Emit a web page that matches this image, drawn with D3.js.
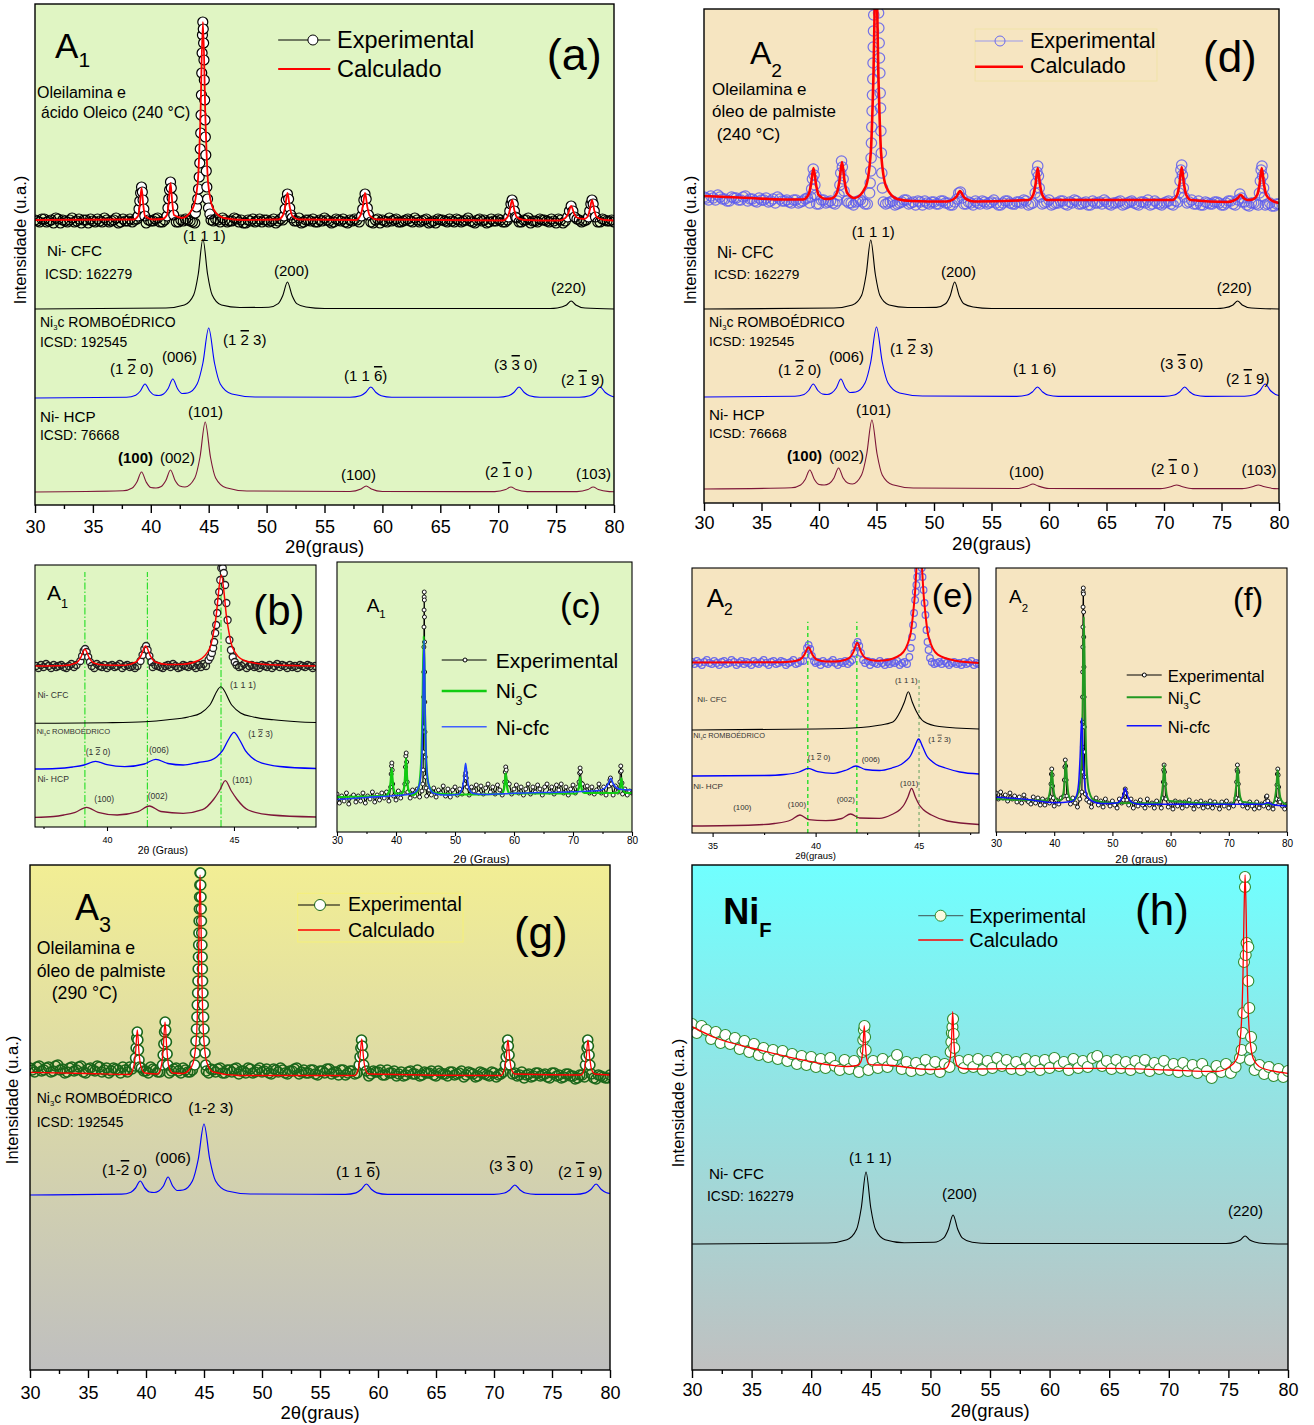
<!DOCTYPE html>
<html><head><meta charset="utf-8">
<script src="https://cdn.jsdelivr.net/npm/d3@7/dist/d3.min.js"></script>
<style>html,body{margin:0;padding:0;background:#fff}svg{display:block}</style>
</head><body>
<svg id="fig" width="1314" height="1425"></svg>
<script>
// ================= TICK VALUES =================
const ticks5 = [30,35,40,45,50,55,60,65,70,75,80];
const minor5 = [32.5,37.5,42.5,47.5,52.5,57.5,62.5,67.5,72.5,77.5];
const ticks10 = [30,40,50,60,70,80];
const minor10 = [35,45,55,65,75];
const ticksB = [40,45], minorB = [37.5,42.5,47.5];
const ticksE = [35,40,45], minorE = [37.5,42.5,47.5];

// ================= PANEL (a) : A1 =================
const aExpStart = 30, aExpStep = 0.4;
const aExpBase = [285,283,286,284,282,286,285,283,287,284,282,285,286,283,284,287,283,285,282,286,284,283,286,285,282,284,286,283,285,284,286,283,284,285,283,286,284,282,285,286,283,285,284,287,283,282,285,286,284,283,285,284,282,286,285,283,284,287,283,285,286,283,284,285,282,286,284,283,285,286,283,285,284,282,286,285,283,284,286,283,285,284,287,283,285,282,284,286,285,283,284,286,283,285,284,282,286,285,283,284,286,283,285,284,287,283,285,282,284,286,285,283,284,286,282,285,284,286,283,285,284,286,283,285,284,283];
const aExpStart2 = 30.2;
const aExpBase2 = [284,286,283,285,287,282,284,285,283,286,285,282,284,286,283,285,284,287,283,284,286,285,283,282,285,284,287,283,286,284,283,285,286,284,282,285,283,286,284,285,287,283,284,286,285,282,284,283,286,285,283,286,284,285,283,287,284,282,285,284,283,285,287,284,283,285,286,282,284,285,286,284,283,285,282,284,287,285,283,284,286,283,285,284,286,283,282,285,284,286,283,285,284,287,283,285,284,282,286,284,285,283,286,284,283,285,287,284,283,285,284,286,282,285,284,283,286,285,284,283,285,283,286,284,285];
const aExpPeaks = [
 [[38.9,289],[38.98,296],[39.05,304],[39.12,312],[39.2,318],[39.27,313],[39.33,305],[39.4,296],[39.48,289]],
 [[41.4,289],[41.48,297],[41.55,306],[41.62,315],[41.7,323],[41.77,317],[41.84,307],[41.9,298],[41.98,290]],
 [[43.85,292],[43.95,298],[44.05,306],[44.12,316],[44.18,328],[44.23,342],[44.27,356],[44.31,372],[44.34,390],[44.37,410],[44.4,432],[44.43,452],[44.46,470],[44.49,483],[44.53,476],[44.56,462],[44.59,445],[44.62,425],[44.65,405],[44.68,385],[44.71,368],[44.75,350],[44.79,334],[44.84,318],[44.9,306],[44.98,297],[45.1,291]],
 [[51.5,289],[51.6,296],[51.7,305],[51.8,311],[51.9,306],[52.0,297],[52.1,290]],
 [[58.2,289],[58.3,296],[58.4,305],[58.5,311],[58.6,306],[58.7,297],[58.8,290]],
 [[70.9,288],[71.0,294],[71.1,301],[71.2,305],[71.3,301],[71.4,294],[71.5,288]],
 [[76.0,288],[76.15,294],[76.3,299],[76.45,294],[76.6,288]],
 [[77.8,288],[77.9,294],[78.0,301],[78.1,305],[78.2,301],[78.3,294],[78.4,288]]
];
const aCalc = [[30,285],[38.5,285.5],[38.9,289],[39.05,300],[39.2,317],[39.35,300],[39.5,289],[40.2,285.5],[41.0,286],[41.4,290],[41.55,303],[41.7,322],[41.85,303],[42.0,290],[42.7,287],[43.6,296],[44.05,322],[44.275,383],[44.5,483],[44.725,383],[44.95,322],[45.4,296],[46.3,287],[48,285],[51.0,285.5],[51.4,289.5],[51.6,298],[51.8,312],[52.0,298],[52.2,289.5],[52.8,285.5],[57.7,285],[58.1,289.5],[58.3,298],[58.5,312],[58.7,298],[58.9,289.5],[59.5,285.5],[70.4,284.5],[70.8,288],[71.0,294.5],[71.2,305],[71.4,294.5],[71.6,288],[72.2,285],[75.3,284.5],[75.8,287],[76.05,291.5],[76.3,299],[76.55,291.5],[76.8,287.5],[77.4,286],[77.7,288],[77.9,294.5],[78.1,305],[78.3,294.5],[78.5,288],[79.2,285],[80,284.5]];
const aCFC = [[30,196],[41.3,197],[42.9,200],[43.7,210],[44.1,231],[44.5,266],[44.9,231],[45.3,210],[46.1,200],[47.7,197.5],[50.2,197.8],[51.0,201.4],[51.4,209.5],[51.8,223],[52.2,209.5],[52.6,201.4],[53.4,198],[55,196.5],[74.5,196.5],[75.1,197],[75.9,200],[76.3,204],[76.7,200],[77.5,197],[80,196]];
const aNi3C = [[30,107],[37.9,107.8],[38.7,109.8],[39.1,114],[39.5,121],[39.9,114],[40.3,110],[40.7,109.5],[41.1,111],[41.5,116.5],[41.9,126],[42.3,116.5],[42.7,111.5],[43.2,112],[44.0,121],[44.5,142],[45.0,177],[45.5,142],[46.0,121],[47.0,111],[49.0,108],[57.2,107.7],[58.1,109.2],[58.55,112.5],[59.0,118],[59.45,112.5],[59.9,109.2],[60.8,107.7],[70.0,107.7],[70.9,109.2],[71.35,112.5],[71.8,118],[72.25,112.5],[72.7,109.2],[73.6,107.7],[77.0,107.7],[77.9,109.2],[78.35,112.5],[78.8,118],[79.25,112.5],[79.7,109.2],[80,108]];
const aHCP = [[30,13],[37.6,14.2],[38.4,17],[38.8,23],[39.2,33],[39.6,23],[40.0,17.5],[40.45,17],[40.9,18.5],[41.3,24.5],[41.7,35],[42.1,24.5],[42.5,19],[42.95,18],[43.8,27],[44.25,48],[44.7,83],[45.15,48],[45.6,27],[46.5,17.2],[48.3,14],[57.2,13.5],[58.15,16],[58.6,19],[59.05,16],[60.0,13.5],[69.7,13.4],[70.65,15.5],[71.1,18],[71.55,15.5],[72.5,13.4],[76.8,13.4],[77.75,15.5],[78.2,18],[78.65,15.5],[79.6,13.4],[80,13.2]];

// ================= PANEL (d) : A2 =================
const dExpStart = 30, dExpStep = 0.4;
const dExpBase = [306,303,305,308,304,302,306,305,303,307,304,302,305,303,301,304,306,302,303,300,303,301,304,300,302,299,303,301,300,302,299,302,300,301,303,299,300,302,298,301,300,302,299,301,303,300,298,301,302,299,301,299,302,300,298,301,303,299,300,302,299,301,300,303,298,300,302,299,301,300,302,299,301,298,300,303,299,300,302,298,300,302,299,301,298,300,301,303,299,300,301,298,300,302,299,301,300,298,302,299,300,302,298,301,299,300,303,299,298,301,299,301,300,298,302,299,300,301,298,300,299,301,298,300,297,299];
const dExpStart2 = 30.2;
const dExpBase2 = [305,307,303,306,304,302,305,303,306,302,304,301,303,305,302,300,304,302,301,303,300,302,305,301,299,303,300,302,299,301,303,300,298,302,301,299,302,300,303,299,301,298,300,303,299,301,302,298,300,301,299,302,300,298,301,303,299,301,298,300,302,299,301,300,298,302,300,299,301,303,298,300,302,299,301,298,300,302,299,301,303,299,300,298,302,300,299,301,298,300,302,299,301,300,298,301,303,299,300,298,301,299,302,298,300,301,299,302,298,300,299,301,298,300,302,298,299,301,297,300,298,300,299,297,299];
const dExpPeaks = [
 [[39.28,306],[39.36,314],[39.43,324],[39.5,334],[39.57,328],[39.64,318],[39.72,308]],
 [[41.74,308],[41.82,318],[41.89,330],[41.96,342],[42.03,336],[42.1,324],[42.18,312]],
 [[44.4,310],[44.45,320],[44.5,332],[44.53,345],[44.56,360],[44.59,376],[44.62,392],[44.65,408],[44.68,424],[44.7,440],[44.72,456],[44.74,472],[44.76,488],[44.78,504],[44.8,520],[44.83,540],[45.12,550],[45.15,520],[45.18,490],[45.2,475],[45.23,460],[45.26,445],[45.29,430],[45.32,410],[45.35,395],[45.38,372],[45.42,350],[45.46,330],[45.52,315]],
 [[52.0,304],[52.15,310],[52.3,311],[52.45,305]],
 [[58.8,310],[58.88,320],[58.95,331],[59.02,337],[59.08,327],[59.15,315],[59.23,306]],
 [[71.32,310],[71.4,322],[71.47,333],[71.54,338],[71.6,328],[71.68,315],[71.76,306]],
 [[76.45,303],[76.6,309],[76.75,305]],
 [[78.3,310],[78.38,322],[78.45,333],[78.52,337],[78.58,327],[78.66,315],[78.74,306]]
];
const dCalc = [[30,307],[34,305],[37,303.5],[38.6,303.5],[39.07,308],[39.3,318],[39.52,335],[39.75,318],[39.97,308],[40.6,304],[41.1,304.5],[41.55,310],[41.78,322],[42.0,341],[42.22,322],[42.45,310],[43.1,305],[44.05,316],[44.5,350],[44.72,421],[44.95,540],[45.18,421],[45.4,350],[45.85,316],[46.8,304],[48,302],[51.1,301.5],[51.66,303.5],[51.96,306.5],[52.26,312],[52.56,306.5],[52.86,303.5],[53.5,301.5],[58.22,303],[58.62,308],[58.82,318],[59.02,335],[59.22,318],[59.42,308],[59.82,303],[70.74,303],[71.14,308],[71.34,318.5],[71.54,336],[71.74,318.5],[71.94,308],[72.34,303],[75.5,301],[76.07,302.5],[76.37,304.5],[76.67,308],[76.97,304.5],[77.27,303],[77.7,303.5],[78.1,308],[78.3,318],[78.5,335],[78.7,318],[78.9,308],[79.3,303],[80,300]];
const dCFC = [[30,194],[41.3,195],[42.9,198],[43.7,207.5],[44.1,228.5],[44.5,263],[44.9,228.5],[45.3,207.5],[46.1,198],[47.7,195.5],[50.2,195.6],[51.0,199.2],[51.4,207],[51.8,221],[52.2,207],[52.6,199.2],[53.4,196],[55,194.5],[74.6,194.5],[75.2,195],[76.0,198],[76.4,202],[76.8,198],[77.6,195],[80,194]];
const dNi3C = [[30,106],[37.9,106.8],[38.7,108.6],[39.1,112.5],[39.5,119],[39.9,112.5],[40.3,109],[40.7,108.5],[41.1,110],[41.5,115],[41.9,124],[42.3,115],[42.7,110.5],[43.2,111],[44.0,120],[44.5,141],[45.0,176],[45.5,141],[46.0,120],[47.0,110],[49.0,107],[57.2,106.6],[58.1,108],[58.55,111],[59.0,116],[59.45,111],[59.9,108],[60.8,106.6],[70.0,106.6],[70.9,108],[71.35,111],[71.8,116],[72.25,111],[72.7,108],[73.6,106.6],[77.0,106.8],[77.9,108.6],[78.35,112.5],[78.8,119],[79.25,112.5],[79.7,108.6],[80,107.5]];
const dHCP = [[30,14],[37.6,15.2],[38.4,18],[38.8,23.5],[39.2,33],[39.6,23.5],[40.0,18.5],[40.45,18],[40.9,19.5],[41.3,25],[41.7,35],[42.1,25],[42.5,20],[42.9,19],[43.7,28],[44.15,49],[44.6,83],[45.05,49],[45.5,28],[46.4,18.2],[48.2,15],[57.2,14.5],[58.15,17],[58.6,19],[59.05,17],[60.0,14.5],[69.7,14.4],[70.65,16.5],[71.1,18],[71.55,16.5],[72.5,14.4],[76.8,14.4],[77.75,16.5],[78.2,18],[78.65,16.5],[79.6,14.4],[80,14.2]];

// ================= PANEL (b) : A1 zoom =================
const bExpStart = 37.2, bExpStep = 0.1;
const bExpBase = [161,159,162,160,163,161,159,162,160,161,162,160,159,161,163,160,162,161,159,161,160,162,161,159,163,161,160,162,159,161,162,160,161,163,159,161,162,160,161,159,161,162,160,159,161,163,160,162,161,160,159,161,162,160,163,161,159,160,162,161,160,162,161,159,162,160,163,161,160,162,161,159,162,160,161,163,160,161,159,162,160,161,163,159,161,162,160,161,159,162,161,160,162,159,161,163,160,162,161,159,162,160,161,159,162,161,160,162,161,159,161];
const bExpPeaks = [
 [[38.95,166],[39.02,171],[39.08,176],[39.14,178],[39.2,175],[39.26,170],[39.33,165]],
 [[41.32,166],[41.4,172],[41.47,178],[41.54,181],[41.6,177],[41.67,171],[41.75,165]],
 [[44.0,167],[44.07,170],[44.13,174],[44.18,179],[44.22,185],[44.26,194],[44.3,202],[44.34,214],[44.38,225],[44.42,235],[44.46,247],[44.5,259],[44.56,259],[44.6,254],[44.65,242],[44.7,224],[44.75,207],[44.82,187],[44.88,177],[44.95,170],[45.03,165]]
];
const bCalc = [[37.165,161],[38.3,161.5],[38.8,164.3],[38.965,169.4],[39.13,177.7],[39.295,169.4],[39.46,164.3],[39.9,162],[40.7,161.8],[41.14,165],[41.33,171],[41.52,181],[41.71,171],[41.9,165],[42.4,162.5],[43.0,162.8],[43.6,166.5],[44.05,179],[44.275,206.5],[44.5,252],[44.725,206.5],[44.95,179],[45.4,166.5],[46.3,162.5],[48.23,161]];
const bCFC = [[37.165,103.7],[40.0,104.3],[41.5,105.3],[42.4,107.2],[43.2,110],[43.7,114],[44.05,122],[44.48,140.3],[44.91,122],[45.26,114],[45.76,110],[46.56,107.2],[47.5,105.3],[48.23,104.5]];
const bNi3C = [[37.165,58],[38.0,58.5],[38.65,60],[39.1,62],[39.55,65.7],[40.0,62.3],[40.7,60.3],[41.47,63],[41.92,67.7],[42.4,63.5],[43.0,62],[43.6,64.5],[44.1,66.8],[44.325,70.3],[44.55,76.3],[44.775,87],[45.0,94.7],[45.225,87],[45.45,76.3],[45.675,70],[45.9,66],[46.8,60.5],[48.23,58.5]];
const bHCP = [[37.165,9.7],[37.9,10.5],[38.3,12],[38.75,14.7],[39.2,19.7],[39.65,14.7],[40.4,12],[41.22,15.3],[41.67,21],[42.12,15.5],[43.0,13.7],[43.76,17.3],[44.21,28],[44.435,36.5],[44.66,46.3],[44.885,36.5],[45.11,28],[45.56,17],[46.46,12],[48.23,10]];
const bGuides = [39.13, 41.59, 44.49];

// ================= PANEL (c) : A1 fit =================
const cExpStart = 30, cExpStep = 0.4;
const cExpBase = [38,29,36,31,39,28,35,37,30,36,31,39,29,36,33,40,30,37,32,39,34,40,31,38,36,32,41,34,39,33,40,34,42,36,43,35,41,44,36,42,37,44,35,42,39,46,36,43,35,42,45,37,43,38,46,40,37,45,41,47,39,46,38,44,48,40,45,38,47,42,37,46,40,48,38,43,47,39,45,37,43,48,38,45,40,47,43,37,45,48,40,45,38,47,42,48,39,45,37,43,47,39,45,38,48,41,46,39,45,38,42,48,39,45,37,47,42,37,46,40,46,38,43,37,41,39];
const cExpPeaks = [
 [[39.1,45],[39.18,58],[39.24,66],[39.3,69],[39.36,62],[39.44,48]],
 [[41.5,48],[41.6,65],[41.67,76],[41.73,79],[41.8,70],[41.9,50]],
 [[44.55,48],[44.6,62],[44.63,80],[44.66,105],[44.69,135],[44.71,160],[44.73,185],[44.745,205],[44.76,222],[44.775,235],[44.79,240],[44.805,232],[44.82,215],[44.84,190],[44.86,160],[44.88,130],[44.91,100],[44.95,75],[45.0,55],[45.1,44]],
 [[51.6,48],[51.72,56],[51.82,59],[51.92,54],[52.05,45]],
 [[58.42,50],[58.52,60],[58.6,65],[58.68,62],[58.8,50]],
 [[71.02,50],[71.12,59],[71.2,64],[71.28,60],[71.4,49]],
 [[76.1,46],[76.25,52],[76.35,54],[76.5,48]],
 [[77.95,50],[78.03,60],[78.1,66],[78.18,61],[78.3,49]]
];
const cNi3C = [[30,35],[38.5,36.5],[38.57,37.5],[38.92,42.4],[39.095,50.3],[39.27,63.7],[39.445,50.3],[39.62,42.4],[39.97,38.5],[41.0,38.5],[41.35,43.5],[41.525,55],[41.7,73.7],[41.875,55],[42.05,43.5],[42.4,39],[42.9,37],[43.8,44],[44.25,68],[44.475,116],[44.7,196],[44.925,116],[45.15,68],[45.6,46],[46.5,39],[50,37.5],[57.9,38],[58.25,41.5],[58.425,48],[58.6,58.7],[58.775,48],[58.95,41.5],[59.3,38.5],[70.5,38.5],[70.85,41.5],[71.025,46],[71.2,54.7],[71.375,46],[71.55,41.5],[71.9,39],[77.5,39],[77.85,41.5],[78.025,46],[78.2,53.7],[78.375,46],[78.55,41.5],[78.9,39],[80,39]];
const cCFC = [[30,32.5],[35,34.5],[40,36.5],[42.5,38],[43.3,40],[44.0,48],[44.35,70],[44.55,118],[44.75,192],[44.95,118],[45.15,70],[45.5,48],[46.3,39],[48,37],[50.5,37.5],[51.2,43],[51.5,53],[51.8,68.7],[52.1,53],[52.4,43],[53.1,38.5],[55,37.5],[60,38.7],[70,40.3],[74.5,41.5],[75.5,44.5],[76.0,48.5],[76.4,53.7],[76.8,48.5],[77.3,44.5],[78.2,42.5],[80,42]];

// ================= PANEL (e) : A2 zoom =================
const eExpStart = 34, eExpStep = 0.12;
const eExpBase = [171,169,172,170,168,171,173,170,169,172,170,168,171,172,169,170,173,171,168,170,172,169,171,170,168,172,170,169,171,173,170,168,171,172,169,170,172,171,168,170,171,173,169,170,172,168,171,170,169,172,170,171,168,172,170,169,171,173,170,168,171,170,172,169,171,168,170,172,171,169,170,172,168,171,170,169,172,170,168,171,169,171,170,172,168,170,171,169,172,170,168,171,170,169,172,170,168,171,169,170,171,169,172,170,168,170,171,169,170,168,171,169,170,172,168,170,169];
const eExpPeaks = [
 [[39.4,172],[39.5,178],[39.58,185],[39.66,188],[39.74,184],[39.82,177],[39.92,172]],
 [[41.78,173],[41.88,180],[41.96,188],[42.04,191],[42.12,187],[42.2,180],[42.3,173]],
 [[44.55,176],[44.62,185],[44.68,196],[44.73,208],[44.78,220],[44.83,233],[44.86,241],[44.89,248],[44.93,256],[44.97,263],[45.01,272],[45.1,272],[45.15,265],[45.19,256],[45.24,243],[45.29,230],[45.33,218],[45.38,203],[45.43,191],[45.48,183],[45.55,175]]
];
const eCalc = [[34,170.5],[38.3,170.8],[38.85,171.4],[39.25,173.5],[39.45,178.1],[39.65,185.7],[39.85,178.1],[40.05,173.5],[40.5,171.5],[40.9,171.5],[41.22,172],[41.62,174.8],[41.82,180.4],[42.02,190.3],[42.22,180.4],[42.42,174.8],[42.9,172.3],[43.3,172.5],[44.13,178.3],[44.58,196.4],[44.805,235.2],[45.03,300],[45.255,235.2],[45.48,196.4],[45.93,178.3],[46.8,172.2],[47.93,170]];
const eCFC = [[34,103],[40,104],[42.2,105.5],[43.0,107.5],[43.75,111],[44.12,122],[44.31,131],[44.5,141.3],[44.69,131],[44.88,122],[45.25,111.5],[46.0,106.5],[47.93,104]];
const eNi3C = [[34,57],[37.5,57.5],[38.5,58.5],[39.2,61],[39.65,64.7],[40.1,61.3],[40.85,59.7],[41.5,63],[41.96,67],[42.42,63.5],[43.1,62.5],[43.7,65],[44.15,68.5],[44.4,72.5],[44.6,77],[44.8,86],[45.0,94],[45.2,86],[45.4,77],[45.6,72.5],[45.85,68.5],[46.3,65],[47.0,61],[47.93,59]];
const eHCP = [[34,7],[37.0,8],[38.0,9.5],[38.8,13],[39.24,18],[39.66,13.3],[40.5,12.3],[41.27,14.5],[41.7,19],[42.13,15],[43.1,14.7],[43.7,18.5],[44.1,23.5],[44.3,28.5],[44.48,36],[44.66,44.7],[44.84,36],[45.02,28.5],[45.22,23.5],[45.62,18],[46.4,12],[47.93,8.5]];
const eGuides = [39.62, 42.0];
const eGuide111 = 45.02;

// ================= PANEL (f) : A2 fit =================
const fExpStart = 30, fExpStep = 0.4;
const fExpBase = [39,33,40,34,37,31,39,33,36,30,35,29,37,32,30,28,35,29,34,27,33,27,32,29,35,26,32,28,34,29,26,33,28,34,29,25,33,28,26,32,30,25,31,34,27,31,25,33,29,26,31,27,24,33,29,25,32,27,33,24,30,26,32,27,24,33,27,29,24,31,28,24,30,33,25,28,23,31,26,30,24,30,26,32,27,23,30,26,31,24,29,25,31,24,30,27,23,30,26,31,24,28,26,31,23,30,26,28,24,30,26,23,30,24,28,26,31,24,28,23,29,24,30,26,23,28];
const fExpPeaks = [
 [[39.35,35],[39.45,48],[39.52,58],[39.58,63],[39.65,57],[39.72,46],[39.85,34]],
 [[41.65,36],[41.75,52],[41.83,65],[41.9,72],[41.97,66],[42.05,52],[42.18,36]],
 [[44.75,40],[44.8,60],[44.83,85],[44.86,110],[44.88,135],[44.9,160],[44.92,185],[44.94,205],[44.96,225],[44.98,240],[45.0,244],[45.02,238],[45.05,220],[45.08,195],[45.11,165],[45.14,135],[45.17,105],[45.2,80],[45.25,55],[45.35,38]],
 [[51.9,32],[52.05,38],[52.2,43],[52.35,39],[52.5,32]],
 [[58.65,34],[58.75,50],[58.82,62],[58.88,67],[58.95,60],[59.03,48],[59.15,34]],
 [[71.25,34],[71.35,50],[71.42,62],[71.48,67],[71.55,60],[71.63,48],[71.75,33]],
 [[76.3,30],[76.45,35],[76.55,36],[76.7,31]],
 [[78.18,33],[78.28,47],[78.35,58],[78.42,63],[78.48,57],[78.56,45],[78.68,32]]
];
const fNi3C = [[30,33],[38.7,31.5],[39.15,37],[39.375,46],[39.6,61.3],[39.825,46],[40.05,37],[40.6,32],[41.1,32],[41.55,38],[41.775,50],[42.0,70.3],[42.225,50],[42.45,38],[42.9,32],[43.3,31.5],[44.2,40.5],[44.65,66.5],[44.875,122],[45.1,215.3],[45.325,122],[45.55,66.5],[46.0,40.5],[46.9,31.5],[50,29],[58.0,28.8],[58.45,36.5],[58.675,47.7],[58.9,67],[59.125,47.7],[59.35,36.5],[59.8,31],[70.6,28],[71.05,35.5],[71.275,46.3],[71.5,64.7],[71.725,46.3],[71.95,35.5],[72.4,30],[77.5,27.8],[77.95,34.5],[78.175,44.8],[78.4,62],[78.625,44.8],[78.85,34.5],[79.3,29.5],[80,27.5]];
const fCFC = [[30,34.7],[35,32.7],[40,29.3],[43.0,30.5],[43.8,36],[44.2,49],[44.45,75],[44.72,113.7],[44.99,75],[45.24,49],[45.64,36],[46.5,31],[48,28.5],[50.8,29],[51.5,32.5],[51.85,37],[52.2,43.7],[52.55,37],[52.9,32.5],[53.6,29],[55,27.7],[70,27.7],[75.8,27.8],[76.4,28.8],[76.7,29.3],[77.0,28.8],[77.6,27.2],[80,26]];

// ================= PANEL (g) : A3 =================
const gExpStart = 30, gExpStep = 0.4;
const gExpBase = [302,298,304,300,303,299,305,301,298,303,300,304,297,302,299,303,300,297,302,300,303,298,301,297,302,299,303,300,298,301,297,301,299,302,298,300,297,302,299,301,298,302,297,300,301,296,299,302,297,300,298,301,296,300,302,297,299,301,296,300,297,300,295,299,301,296,298,300,295,299,296,300,297,294,299,298,295,300,297,294,298,295,299,296,294,298,297,295,299,296,294,298,296,299,295,297,293,298,296,294,297,295,298,293,296,294,298,295,293,297,294,296,292,297,295,293,296,294,292,295,293,296,291,294,292,295];
const gExpStart2 = 30.2;
const gExpBase2 = [300,303,299,302,298,304,300,297,302,299,303,298,301,300,304,298,302,299,301,297,300,303,298,302,299,297,301,298,302,300,299,302,297,300,298,301,299,303,297,300,301,297,300,298,302,299,297,301,298,302,299,297,301,298,300,296,299,302,298,297,300,296,299,297,301,298,295,300,297,299,297,294,299,296,298,300,295,297,299,296,294,298,296,300,295,297,299,294,297,296,298,295,297,293,298,296,294,297,295,298,293,296,298,294,297,295,292,296,294,297,295,293,297,294,292,296,294,291,295,293,294,292,295,293,292];
const gExpPeaks = [
 [[39.05,304],[39.1,312],[39.15,322],[39.2,332],[39.25,338],[39.3,330],[39.35,320],[39.4,310],[39.45,303]],
 [[41.42,305],[41.48,315],[41.54,326],[41.6,338],[41.65,348],[41.7,340],[41.76,328],[41.82,316],[41.88,305]],
 [[44.2,305],[44.26,317],[44.31,329],[44.35,341],[44.39,353],[44.42,365],[44.45,377],[44.48,389],[44.5,401],[44.52,413],[44.54,425],[44.56,437],[44.58,449],[44.6,461],[44.62,473],[44.64,485],[44.66,497],[44.7,497],[44.72,485],[44.74,473],[44.76,461],[44.78,449],[44.8,437],[44.82,425],[44.84,413],[44.86,401],[44.88,389],[44.91,377],[44.94,365],[44.97,353],[45.0,341],[45.04,329],[45.09,317],[45.15,305]],
 [[58.38,305],[58.45,313],[58.52,322],[58.58,330],[58.64,324],[58.7,315],[58.77,305]],
 [[70.98,305],[71.05,313],[71.12,322],[71.18,330],[71.24,324],[71.3,315],[71.37,305]],
 [[77.88,305],[77.95,313],[78.02,322],[78.08,330],[78.14,324],[78.2,315],[78.27,305]]
];
const gCalc = [[30,297.7],[35,296.5],[38.6,295.5],[38.95,304],[39.1,317],[39.25,340],[39.4,317],[39.55,304],[39.9,297],[41.0,296],[41.34,305],[41.49,322],[41.64,348],[41.79,322],[41.94,305],[42.3,297],[43.2,296.5],[43.7,300],[44.06,307],[44.36,335],[44.51,395],[44.66,495],[44.81,395],[44.96,335],[45.26,307],[45.8,298],[48,294.5],[58.0,294.5],[58.3,301],[58.45,312.5],[58.6,331],[58.75,312.5],[58.9,301],[59.2,296],[70.6,294.5],[70.9,301],[71.05,312],[71.2,330],[71.35,312],[71.5,301],[71.8,296],[77.5,295],[77.8,301],[77.95,312.5],[78.1,330],[78.25,312.5],[78.4,301],[78.7,296],[80,295]];
const gNi3C = [[30,175],[37.9,175.8],[38.7,177.8],[39.1,182],[39.5,189],[39.9,182],[40.3,178],[40.7,177.5],[41.1,179],[41.5,184],[41.9,193],[42.3,184],[42.7,179.5],[43.2,180],[44.0,189],[44.5,210.5],[45.0,246],[45.5,210.5],[46.0,189],[47.0,179],[49.0,176],[57.2,175.7],[58.1,177.2],[58.55,180.5],[59.0,186],[59.45,180.5],[59.9,177.2],[60.8,175.7],[70.0,175.6],[70.9,177],[71.35,180],[71.8,185],[72.25,180],[72.7,177],[73.6,175.6],[77.0,175.7],[77.9,177.2],[78.35,180.5],[78.8,186],[79.25,180.5],[79.7,177.2],[80,176.5]];

// ================= PANEL (h) : NiF =================
const hExpStart = 30, hExpStep = 0.4;
const hExpBase = [346,337,344,340,331,338,327,335,326,332,321,329,318,326,315,322,313,320,311,319,309,316,306,314,305,313,303,311,302,312,304,300,310,301,309,298,306,300,309,302,311,303,309,315,301,308,299,307,300,310,301,308,298,306,303,299,309,302,310,303,311,300,309,302,312,304,310,301,308,300,311,303,309,300,310,302,312,304,308,300,311,302,309,303,312,314,304,309,301,310,302,308,300,309,302,310,299,307,301,309,300,306,298,307,299,305,297,306,299,292,304,298,306,297,303,300,302,304,300,305,296,303,294,301,293,299];
const hExpPeaks = [
 [[44.3,318],[44.37,330],[44.42,340],[44.47,344],[44.52,333],[44.57,320]],
 [[51.7,318],[51.76,328],[51.8,337],[51.85,343],[51.9,351],[51.95,336],[52.0,322]],
 [[75.97,312],[76.11,320],[76.2,337],[76.25,357],[76.31,408],[76.39,483],[76.39,493],[76.45,415],[76.53,427],[76.67,423],[76.67,389],[76.75,362],[76.81,310],[76.9,333],[76.9,322]]
];
const hCalc = [[30,343.3],[32,332],[35,322],[38,313.3],[40,308.3],[43,303.5],[43.85,304.5],[44.05,306],[44.25,311.7],[44.35,324],[44.45,344.3],[44.55,324],[44.65,311.7],[44.85,306],[45.3,305],[46,305],[50,300.5],[51.27,301.5],[51.47,304],[51.67,312.2],[51.77,329.5],[51.87,358.3],[51.97,329.5],[52.07,312.2],[52.27,304],[52.7,301.5],[53.5,301],[60,301.7],[65,301.7],[70,300],[74,298.5],[75.0,302.5],[75.7,311],[76.05,339],[76.225,397],[76.31,456],[76.4,495],[76.49,456],[76.575,397],[76.75,339],[77.1,311],[77.8,302],[80,296.7]];
const hCFC = [[30,126],[41.4,127],[43.0,130.3],[43.8,140.4],[44.2,162],[44.6,198],[45.0,162],[45.4,140.4],[46.2,130.3],[47.8,127.3],[50.3,127.7],[51.1,131.8],[51.5,140.5],[51.9,155],[52.3,140.5],[52.7,131.8],[53.5,127.7],[55,126.5],[74.8,126.5],[75.6,128],[76.0,130],[76.4,134],[76.8,130],[77.2,128],[78,126.5],[80,126]];

// ================= DRAWING =================
const FONT = '"Liberation Sans", Arial, Helvetica, sans-serif';
const svg = d3.select('#fig');
const defs = svg.append('defs');
const COL = {red:'#ff0000', cfc:'#000000', ni3c:'#0000ff', hcp:'#7d1638', green:'#e0f5c3', wheat:'#f6e5c1'};

function gradient(id, top, bottom){
  const lg = defs.append('linearGradient').attr('id',id).attr('x1',0).attr('y1',0).attr('x2',0).attr('y2',1);
  lg.append('stop').attr('offset','0%').attr('stop-color',top);
  lg.append('stop').attr('offset','100%').attr('stop-color',bottom);
  return `url(#${id})`;
}
const bgG = gradient('gradG','#f2ee94','#bfbfbf');
const bgH = gradient('gradH','#70ffff','#c0c0c0');

function addText(parent, str, px, py, size, o = {}){
  const t = parent.append('text').attr('x',px).attr('y',py).attr('font-size',size)
    .attr('font-family',FONT).attr('fill',o.fill||'#000').attr('text-anchor',o.anchor||'start')
    .attr('font-weight',o.bold?'bold':'normal').attr('xml:space','preserve');
  if(o.rotate) t.attr('transform',`rotate(-90,${px},${py})`);
  const subScale = o.subScale||0.6, subShift = (o.subShift==null?0.3:o.subShift)*size;
  const re = /_\{([^}]*)\}|~(.)|([^_~]+)/g; let m, cur = 0;
  while((m = re.exec(str)) !== null){
    if(m[1] !== undefined){
      t.append('tspan').attr('font-size',size*subScale).attr('dy',subShift-cur).text(m[1]); cur = subShift;
    } else {
      const ts = t.append('tspan').attr('dy',-cur).text(m[2]!==undefined?m[2]:m[3]); cur = 0;
      if(m[2]!==undefined) ts.style('text-decoration','overline');
    }
  }
  return t;
}

// merge the measured baseline grids with the measured peak clusters (flag 1 = peak point)
function expPoints(s){
  const ranges = s.peaks.map(c => d3.extent(c, d => d[0]));
  const pts = [];
  s.grids.forEach(gr => gr.base.forEach((v,i) => {
    const xv = gr.start + i*gr.step;
    if(!ranges.some(r => xv >= r[0]-0.05 && xv <= r[1]+0.05)) pts.push([xv, v, 0]);
  }));
  s.peaks.forEach(c => c.forEach(d => pts.push([d[0], d[1], 1])));
  return pts.sort((a,b) => a[0]-b[0]);
}

function drawPanel(p){
  const x = d3.scaleLinear().domain(p.dom).range([p.x0,p.x1]);
  const H = p.y1 - p.y0;
  const y = d3.scaleLinear().domain([0,H]).range([p.y1,p.y0]);
  const g = svg.append('g');
  g.append('rect').attr('x',p.x0).attr('y',p.y0).attr('width',p.x1-p.x0).attr('height',H).attr('fill',p.bg);
  defs.append('clipPath').attr('id','clip-'+p.id).append('rect')
    .attr('x',p.x0).attr('y',p.y0).attr('width',p.x1-p.x0).attr('height',H);
  const plot = g.append('g').attr('clip-path',`url(#clip-${p.id})`);
  const curve = d3.line().x(d=>x(d[0])).y(d=>y(d[1])).curve(d3.curveMonotoneX);
  const poly = d3.line().x(d=>x(d[0])).y(d=>y(d[1]));
  p.series.forEach(s => {
    if(s.type === 'line'){
      plot.append('path').attr('d',curve(s.data)).attr('fill','none').attr('stroke',s.color)
        .attr('stroke-width',s.w).attr('stroke-linejoin','round');
    } else if(s.type === 'exp'){
      const pts = expPoints(s);
      if(s.line) plot.append('path').attr('d',poly(pts)).attr('fill','none').attr('stroke',s.line).attr('stroke-width',s.lw||1);
      plot.append('g').selectAll('circle').data(pts).join('circle')
        .attr('cx',d=>x(d[0])).attr('cy',d=>y(d[1])).attr('r',s.r)
        .attr('fill',d => d[2] ? s.fill : (s.baseFill||s.fill))
        .attr('stroke',s.stroke).attr('stroke-width',s.sw).attr('stroke-opacity',s.op||1);
    } else if(s.type === 'vline'){
      s.xs.forEach(xv => plot.append('line').attr('x1',x(xv)).attr('x2',x(xv))
        .attr('y1',y(s.y[0])).attr('y2',y(s.y[1])).attr('stroke',s.color).attr('stroke-width',s.w)
        .attr('stroke-dasharray',s.dash));
    }
  });
  (p.boxes||[]).forEach(b => g.append('rect').attr('x',x(b.x[0])).attr('y',y(b.y[1]))
      .attr('width',x(b.x[1])-x(b.x[0])).attr('height',y(b.y[0])-y(b.y[1]))
      .attr('fill','none').attr('stroke',b.stroke).attr('stroke-width',1));
  (p.legend||[]).forEach(l => {
    g.append('line').attr('x1',x(l.x[0])).attr('x2',x(l.x[1])).attr('y1',y(l.y)).attr('y2',y(l.y))
      .attr('stroke',l.color).attr('stroke-width',l.w);
    if(l.mk) g.append('circle').attr('cx',x(l.mk.cx)).attr('cy',y(l.y)).attr('r',l.mk.r)
      .attr('fill',l.mk.fill).attr('stroke',l.mk.stroke).attr('stroke-width',l.mk.sw||1);
  });
  g.append('rect').attr('x',p.x0).attr('y',p.y0).attr('width',p.x1-p.x0).attr('height',H)
    .attr('fill','none').attr('stroke',p.frame||'#000').attr('stroke-width',p.fw||1.2);
  const pad = p.labY - p.tick - 0.71*p.tickFont;
  const ax = g.append('g').attr('transform',`translate(0,${p.y1})`)
    .call(d3.axisBottom(x).tickValues(p.major).tickSize(p.tick).tickPadding(pad).tickFormat(d3.format('d')));
  ax.select('.domain').remove();
  ax.selectAll('line').attr('stroke','#000').attr('stroke-width',p.fw||1.2);
  ax.selectAll('text').attr('font-size',p.tickFont).attr('font-family',FONT).attr('fill','#000');
  const axm = g.append('g').attr('transform',`translate(0,${p.y1})`)
    .call(d3.axisBottom(x).tickValues(p.minor).tickSize(p.tick/2).tickFormat(''));
  axm.select('.domain').remove();
  axm.selectAll('line').attr('stroke','#000').attr('stroke-width',p.fw||1.2);
  addText(g, p.xlab, x(p.xlabX), p.y1 + p.xlabY, p.xlabFont, {anchor:'middle'});
  if(p.ylab) addText(g, 'Intensidade (u.a.)', p.ylab[0], p.ylab[1], p.ylab[2], {anchor:'middle', rotate:true});
  (p.texts||[]).forEach(t => addText(g, t[0], x(t[1]), y(t[2]), t[3], Object.assign({fill:p.textFill||'#000'}, t[4]||{})));
}

const grid = (start, step, base) => ({start, step, base});
const expA = (grids, peaks, st) => Object.assign({type:'exp', grids, peaks}, st);

const panels = [
 { id:'a', x0:35, x1:614, y0:4, y1:505, dom:[30,80], bg:COL.green, major:ticks5, minor:minor5,
   tick:8, tickFont:18, labY:28, xlab:'2θ(graus)', xlabX:55, xlabY:48, xlabFont:18.5, ylab:[26,240,16.5], fw:1.4,
   series:[ expA([grid(aExpStart,aExpStep,aExpBase), grid(aExpStart2,aExpStep,aExpBase2)], aExpPeaks,
              {r:5,fill:'#fff',baseFill:'none',stroke:'#000',sw:1.2}),
     {type:'line',data:aCalc,color:COL.red,w:1.8},
     {type:'line',data:aCFC,color:COL.cfc,w:1.1},
     {type:'line',data:aNi3C,color:COL.ni3c,w:1.1},
     {type:'line',data:aHCP,color:COL.hcp,w:1.1} ],
   legend:[ {x:[51.0,55.5],y:465,color:'#000',w:1,mk:{cx:54.0,r:5,fill:'#fff',stroke:'#000'}},
            {x:[51.0,55.5],y:436,color:COL.red,w:1.8} ],
   texts:[ ['A_{1}',31.73,447,35,{subShift:0.27}], ['Oleilamina e',30.17,407,16], ['ácido Oleico (240 °C)',30.52,387,15.7],
     ['(a)',74.2,435,45], ['Experimental',56.08,457,23.5], ['Calculado',56.08,428,23.5],
     ['(1 1 1)',42.78,264,14.8], ['Ni- CFC',31.04,249,15.2], ['ICSD: 162279',30.86,226,13.9], ['(200)',50.64,229,15], ['(220)',74.56,212,15],
     ['Ni_{3}c ROMBOÉDRICO',30.43,178,14,{subShift:0.2,subScale:0.55}], ['ICSD: 192545',30.43,158,13.9],
     ['(1 ~2 0)',36.48,131,15], ['(006)',40.97,143,15], ['(1 ~2 3)',46.24,160,15], ['(1 1 ~6)',56.68,124,15], ['(3 ~3 0)',69.64,135,15], ['(2 ~1 9)',75.42,120,15],
     ['Ni- HCP',30.43,83,15.2], ['ICSD: 76668',30.43,65,13.9], ['(100)',37.17,42,15,{bold:true}], ['(002)',40.79,42,15], ['(101)',43.21,88,15],
     ['(100)',56.42,25,15], ['(2 ~1 0 )',68.86,28,15], ['(103)',76.72,26,15] ] },
 { id:'d', x0:704, x1:1279, y0:9, y1:503, dom:[30,80], bg:COL.wheat, major:ticks5, minor:minor5,
   tick:8, tickFont:18, labY:25.5, xlab:'2θ(graus)', xlabX:55, xlabY:47, xlabFont:18.5, ylab:[696,240,16.5], fw:1.4,
   series:[ expA([grid(dExpStart,dExpStep,dExpBase), grid(dExpStart2,dExpStep,dExpBase2)], dExpPeaks,
              {r:5.2,fill:'none',stroke:'#5c5cee',sw:1.2,op:0.85}),
     {type:'line',data:dCalc,color:COL.red,w:2.6},
     {type:'line',data:dCFC,color:COL.cfc,w:1.1},
     {type:'line',data:dNi3C,color:COL.ni3c,w:1.1},
     {type:'line',data:dHCP,color:COL.hcp,w:1.1} ],
   boxes:[ {x:[53.57,69.39],y:[422,474],stroke:'#f0e3a8'} ],
   legend:[ {x:[53.57,57.74],y:462,color:'#9a9aee',w:1.2,mk:{cx:55.74,r:5,fill:'none',stroke:'#6a6aee'}},
            {x:[53.57,57.74],y:436.3,color:COL.red,w:2.6} ],
   texts:[ ['A_{2}',34.0,439,32,{subShift:0.4}], ['Oleilamina e',30.7,408,17], ['óleo de palmiste',30.7,385.7,17], ['(240 °C)',31.1,363,17],
     ['(d)',73.39,431.3,44], ['Experimental',58.35,454.7,21.5], ['Calculado',58.35,429.7,21.5],
     ['(1 1 1)',42.84,266,14.9], ['Ni- CFC',31.13,244.7,15.7], ['ICSD: 162279',30.87,223.7,13.6], ['(200)',50.61,226.3,15], ['(220)',74.58,210.3,15],
     ['Ni_{3}c ROMBOÉDRICO',30.43,176,14,{subShift:0.2,subScale:0.55}], ['ICSD: 192545',30.43,157,13.6],
     ['(1 ~2 0)',36.43,128,15], ['(006)',40.87,141,15], ['(1 ~2 3)',46.17,149,15], ['(1 1 6)',56.87,129,15], ['(3 ~3 0)',69.65,134,15], ['(2 ~1 9)',75.4,119,15],
     ['Ni- HCP',30.43,83,15.2], ['ICSD: 76668',30.43,65,13.6], ['(100)',37.22,42,15,{bold:true}], ['(002)',40.87,42,15], ['(101)',43.22,88,15],
     ['(100)',56.52,26,15], ['(2 ~1 0 )',68.87,29,15], ['(103)',76.74,28,15] ] },
 { id:'b', x0:35, x1:316, y0:565, y1:827, dom:[37.165,48.23], bg:COL.green, major:ticksB, minor:minorB,
   tick:4, tickFont:9, labY:16, xlab:'2θ (Graus)', xlabX:42.2, xlabY:27, xlabFont:10.5, fw:1.1, textFill:'#333',
   series:[ {type:'vline',xs:bGuides,y:[0,255],color:'#22dd22',w:1.1,dash:'7,2,1.5,2'},
     expA([grid(bExpStart,bExpStep,bExpBase)], bExpPeaks,{r:3.5,fill:'#fff',baseFill:'none',stroke:'#222',sw:1.3}),
     {type:'line',data:bCalc,color:COL.red,w:1.5},
     {type:'line',data:bCFC,color:COL.cfc,w:1.1},
     {type:'line',data:bNi3C,color:COL.ni3c,w:1.3},
     {type:'line',data:bHCP,color:COL.hcp,w:1.3} ],
   texts:[ ['A_{1}',37.64,227,21,{fill:'#000',subShift:0.37}], ['(b)',45.76,202,42,{fill:'#000'}],
     ['Ni- CFC',37.26,128.7,8.6], ['(1 1 1)',44.84,138.7,9], ['Ni_{3}c ROMBOÉDRICO',37.23,93,7.6,{subShift:0.2,subScale:0.55}],
     ['(1 ~2 3)',45.56,89.7,8.5], ['(1 ~2 0)',39.16,72,8.5], ['(006)',41.65,73.7,8.5],
     ['Ni- HCP',37.26,44.7,8.6], ['(101)',44.93,43.7,8.5], ['(100)',39.5,25.3,8.5], ['(002)',41.6,27.7,8.5] ] },
 { id:'c', x0:337, x1:632, y0:562, y1:832, dom:[30,80], bg:COL.green, major:ticks10, minor:minor10,
   tick:4, tickFont:10, labY:11.5, xlab:'2θ (Graus)', xlabX:54.5, xlabY:31, xlabFont:11.8, fw:1.1,
   series:[ expA([grid(cExpStart,cExpStep,cExpBase)], cExpPeaks,{r:2,fill:'#fff',stroke:'#000',sw:0.9,line:'#000',lw:1.1}),
     {type:'line',data:cNi3C,color:'#11cc11',w:2.2},
     {type:'line',data:cCFC,color:'#2040ff',w:1.6} ],
   legend:[ {x:[47.75,55.37],y:172,color:'#000',w:1,mk:{cx:51.7,r:2,fill:'#fff',stroke:'#000'}},
            {x:[47.75,55.37],y:141,color:'#11cc11',w:2.5},
            {x:[47.75,55.37],y:105.3,color:'#4060ff',w:1.5} ],
   texts:[ ['A_{1}',35.03,220.3,19,{subShift:0.35}], ['(c)',67.8,213.7,35],
     ['Experimental',56.9,163.7,21], ['Ni_{3}C',56.9,133.7,21,{subShift:0.3}], ['Ni-cfc',56.9,97,21] ] },
 { id:'e', x0:692, x1:979, y0:568, y1:833, dom:[34,47.93], bg:COL.wheat, major:ticksE, minor:minorE,
   tick:4, tickFont:9, labY:16, xlab:'2θ(graus)', xlabX:40.0, xlabY:26, xlabFont:9.5, fw:1.1, textFill:'#333',
   series:[ {type:'vline',xs:eGuides,y:[0,211.3],color:'#33dd33',w:1.5,dash:'4,3'},
     {type:'vline',xs:[eGuide111],y:[0,153],color:'#5f9f5f',w:1,dash:'3,3'},
     expA([grid(eExpStart,eExpStep,eExpBase)], eExpPeaks,{r:3.3,fill:'none',stroke:'#5c5cee',sw:1.2,op:0.9}),
     {type:'line',data:eCalc,color:COL.red,w:2},
     {type:'line',data:eCFC,color:COL.cfc,w:1.1},
     {type:'line',data:eNi3C,color:COL.ni3c,w:1.3},
     {type:'line',data:eHCP,color:COL.hcp,w:1.3} ],
   texts:[ ['A_{2}',34.71,226.3,26,{fill:'#000',subShift:0.32}], ['(e)',45.64,226.3,34,{fill:'#000'}],
     ['(1 1 1)',43.85,150.3,7.8], ['Ni- CFC',34.26,131.3,8.1], ['Ni_{3}c ROMBOÉDRICO',34.06,94.7,7.4,{subShift:0.2,subScale:0.55}],
     ['(1 ~2 3)',45.47,91.3,7.8], ['(1 ~2 0)',39.62,73,7.8], ['(006)',42.24,71.3,7.8],
     ['Ni- HCP',34.06,43.7,8.1], ['(101)',44.1,47,7.8], ['(100)',36.0,23,7.8], ['(100)',38.65,25.7,7.8], ['(002)',41.02,31.3,7.8] ] },
 { id:'f', x0:996, x1:1287, y0:568, y1:832, dom:[30,80], bg:COL.wheat, major:ticks10, minor:minor10,
   tick:4, tickFont:10, labY:15, xlab:'2θ (graus)', xlabX:55, xlabY:31, xlabFont:11.5, fw:1.1,
   series:[ expA([grid(fExpStart,fExpStep,fExpBase)], fExpPeaks,{r:2,fill:'#fff',stroke:'#000',sw:0.9,line:'#000',lw:1.1}),
     {type:'line',data:fNi3C,color:'#229922',w:2},
     {type:'line',data:fCFC,color:'#1010ff',w:1.5} ],
   legend:[ {x:[52.46,58.47],y:157,color:'#000',w:1,mk:{cx:55.48,r:2,fill:'#fff',stroke:'#000'}},
            {x:[52.46,58.47],y:134.7,color:'#229922',w:2},
            {x:[52.46,58.47],y:106.3,color:'#1010ff',w:1.5} ],
   texts:[ ['A_{2}',32.23,228.7,19,{subShift:0.44}], ['(f)',70.72,222,32],
     ['Experimental',59.5,150.3,16.6], ['Ni_{3}C',59.5,127.7,16.6,{subShift:0.3}], ['Ni-cfc',59.5,98.7,16.6] ] },
 { id:'g', x0:30, x1:610, y0:865, y1:1370, dom:[30,80], bg:bgG, major:ticks5, minor:minor5,
   tick:8, tickFont:18, labY:28.5, xlab:'2θ(graus)', xlabX:55, xlabY:49, xlabFont:18.5, ylab:[18,1100,16.5], fw:1.4,
   series:[ expA([grid(gExpStart,gExpStep,gExpBase), grid(gExpStart2,gExpStep,gExpBase2)], gExpPeaks,
              {r:5,fill:'#fff',baseFill:'none',stroke:'#1a661a',sw:1.6}),
     {type:'line',data:gCalc,color:COL.red,w:1.3},
     {type:'line',data:gNi3C,color:COL.ni3c,w:1.2} ],
   boxes:[ {x:[53.08,67.33],y:[428,476.7],stroke:'#f5f07a'} ],
   legend:[ {x:[53.1,56.72],y:465,color:'#000',w:1,mk:{cx:55.0,r:5.5,fill:'#fff',stroke:'#1a661a'}},
            {x:[53.1,56.72],y:440,color:COL.red,w:1.3} ],
   texts:[ ['A_{3}',33.88,450,36,{subShift:0.32}], ['Oleilamina e',30.58,415.7,17.7], ['óleo de palmiste',30.58,393.3,17.7], ['(290 °C)',31.87,370.7,17.7],
     ['(g)',71.72,422,44], ['Experimental',57.41,459,19.5], ['Calculado',57.41,433,19.5],
     ['Ni_{3}c ROMBOÉDRICO',30.58,267.3,14,{subShift:0.2,subScale:0.55}], ['ICSD: 192545',30.58,243.3,13.8],
     ['(1-2 3)',43.65,256.7,15.3], ['(1-~2 0)',36.21,195,15.3], ['(006)',40.78,207,15.3], ['(1 1 ~6)',56.38,193,15.3], ['(3 ~3 0)',69.57,199,15.3], ['(2 ~1 9)',75.52,193,15.3] ] },
 { id:'h', x0:692, x1:1288, y0:865, y1:1370, dom:[30,80], bg:bgH, major:ticks5, minor:minor5,
   tick:8, tickFont:18, labY:25.5, xlab:'2θ(graus)', xlabX:55, xlabY:47, xlabFont:18.5, ylab:[684,1103,16.5], fw:1.4,
   series:[ expA([grid(hExpStart,hExpStep,hExpBase)], hExpPeaks,{r:5.5,fill:'#fff',stroke:'#2e8b2e',sw:1.1}),
     {type:'line',data:hCalc,color:COL.red,w:1.3},
     {type:'line',data:hCFC,color:COL.cfc,w:1.1} ],
   legend:[ {x:[48.98,52.76],y:454.3,color:'#4a7373',w:1.3,mk:{cx:50.86,r:5.5,fill:'#fafae0',stroke:'#2e8b2e'}},
            {x:[48.98,52.76],y:430,color:COL.red,w:1.3} ],
   texts:[ ['Ni_{F}',32.63,446,36,{bold:true,subShift:0.37,subScale:0.56}], ['(h)',67.17,445,44],
     ['Experimental',53.26,446.7,20], ['Calculado',53.26,422.7,20],
     ['(1 1 1)',43.17,207,14.8], ['Ni- CFC',31.43,191,15.2], ['ICSD: 162279',31.26,169,13.8], ['(200)',50.97,171,15], ['(220)',74.97,154,15] ] }
];

panels.forEach(drawPanel);
</script>
</body></html>
